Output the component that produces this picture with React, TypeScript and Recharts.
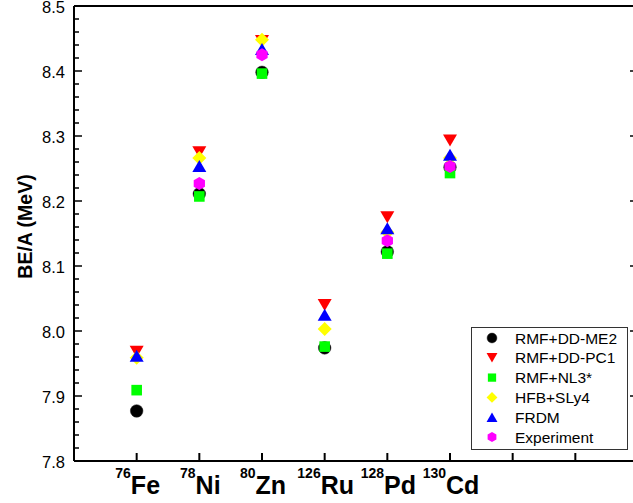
import React from 'react';
import {
    ScatterChart,
    Scatter,
    XAxis,
    YAxis,
    ReferenceLine
} from 'recharts';

// nuclei along the x axis (positions 1..6)
const elements = ['Fe', 'Ni', 'Zn', 'Ru', 'Pd', 'Cd'];
const massNumbers = ['76', '78', '80', '126', '128', '130'];

// BE/A in MeV, null = no point
const rmfDdMe2 = [7.877, 8.211, 8.398, 7.974, 8.122, 8.252];
const rmfDdPc1 = [7.968, 8.275, 8.446, 8.040, 8.175, 8.293];
const rmfNl3 = [7.909, 8.207, 8.396, 7.976, 8.119, 8.243];
const hfbSly4 = [7.959, 8.266, 8.448, 8.003, 8.152, 8.266];
const frdm = [7.962, 8.254, 8.434, 8.025, 8.158, 8.271];
const experiment = [null, 8.227, 8.425, null, 8.139, 8.253];

const xTicks = [1, 2, 3, 4, 5, 6, 7, 8];
const yMajorTicks = [7.8, 7.9, 8.0, 8.1, 8.2, 8.3, 8.4, 8.5];

const FONT = "'Liberation Sans', Arial, Helvetica, sans-serif";

type Kind = 'circle' | 'down' | 'square' | 'diamond' | 'up' | 'hexagon';

const seriesList: { name: string; values: (number | null)[]; kind: Kind; color: string }[] = [
    { name: 'RMF+DD-ME2', values: rmfDdMe2, kind: 'circle', color: '#000000' },
    { name: 'RMF+DD-PC1', values: rmfDdPc1, kind: 'down', color: '#FF0000' },
    { name: 'RMF+NL3*', values: rmfNl3, kind: 'square', color: '#00FF00' },
    { name: 'HFB+SLy4', values: hfbSly4, kind: 'diamond', color: '#FFFF00' },
    { name: 'FRDM', values: frdm, kind: 'up', color: '#0000FF' },
    { name: 'Experiment', values: experiment, kind: 'hexagon', color: '#FF00FF' }
];

// minor ticks every 0.02 between the majors
const yAllTicks: number[] = [];
yMajorTicks.forEach((v, i) => {
    yAllTicks.push(v);
    if (i < yMajorTicks.length - 1) {
        for (let k = 1; k < 5; k++) yAllTicks.push(Number((v + k * 0.02).toFixed(2)));
    }
});
const isMajor = (v: number) => Math.abs(v * 10 - Math.round(v * 10)) < 1e-6;

const Marker = ({ kind, color, cx, cy, s = 1 }: { kind: Kind; color: string; cx: number; cy: number; s?: number }) => {
    switch (kind) {
        case 'circle':
            return <circle cx={cx} cy={cy} r={6.3 * s} fill={color} stroke="#222" strokeWidth={0.5} />;
        case 'down':
            return <polygon points={`${cx - 7 * s},${cy - 6 * s} ${cx + 7 * s},${cy - 6 * s} ${cx},${cy + 6 * s}`} fill={color} />;
        case 'up':
            return <polygon points={`${cx - 7 * s},${cy + 6 * s} ${cx + 7 * s},${cy + 6 * s} ${cx},${cy - 6 * s}`} fill={color} />;
        case 'square':
            return <rect x={cx - 5.3 * s} y={cy - 5.3 * s} width={10.6 * s} height={10.6 * s} fill={color} />;
        case 'diamond':
            return <polygon points={`${cx},${cy - 7 * s} ${cx + 7 * s},${cy} ${cx},${cy + 7 * s} ${cx - 7 * s},${cy}`} fill={color} />;
        case 'hexagon': {
            const r = 6.5 * s;
            const pts = [-90, -30, 30, 90, 150, 210]
                .map(a => `${cx + r * Math.cos((a * Math.PI) / 180)},${cy + r * Math.sin((a * Math.PI) / 180)}`)
                .join(' ');
            return <polygon points={pts} fill={color} />;
        }
    }
    return null;
};

const XTick = (props: any) => {
    const { x, y, payload } = props;
    const i = payload.value - 1;
    return (
        <g>
            <line x1={x} y1={y} x2={x} y2={y - 8} stroke="#000" strokeWidth={2} />
            {i >= 0 && i < elements.length && (
                <text x={x + 1} y={y + 33} textAnchor="middle" fontFamily={FONT} fontWeight="bold" fill="#000">
                    <tspan fontSize={14} dy={-16}>{massNumbers[i]}</tspan>
                    <tspan fontSize={25} dy={16}>{elements[i]}</tspan>
                </text>
            )}
        </g>
    );
};

const YTick = (props: any) => {
    const { x, y, payload } = props;
    const major = isMajor(payload.value);
    return (
        <g>
            <line x1={x} y1={y} x2={x + (major ? 8 : 5)} y2={y} stroke="#000" strokeWidth={1.5} />
            {major && (
                <text x={x - 9} y={y + 1} dy="0.36em" textAnchor="end" fontFamily={FONT} fontSize={16.5} fill="#000">
                    {payload.value.toFixed(1)}
                </text>
            )}
        </g>
    );
};

const RightTick = (props: any) => {
    const { x, y, payload } = props;
    const major = isMajor(payload.value);
    return <line x1={x} y1={y} x2={x - (major ? 8 : 5)} y2={y} stroke="#000" strokeWidth={1.5} />;
};

const YTitle = (props: any) => {
    const { viewBox } = props;
    const cx = viewBox.x + 25;
    const cy = viewBox.y + viewBox.height / 2 - 7;
    return (
        <text x={cx} y={cy} transform={`rotate(-90, ${cx}, ${cy})`} textAnchor="middle" dy="0.36em"
            fontFamily={FONT} fontSize={19.5} fontWeight="bold" fill="#000">
            BE/A (MeV)
        </text>
    );
};

export default function App() {
    return (
        <div style={{ position: 'absolute', left: 0, top: 0, width: 633, height: 503, overflow: 'hidden', background: '#fff' }}>
            <ScatterChart width={640} height={503} margin={{ top: 6, right: 1, left: 0, bottom: 0 }}>
                <XAxis
                    type="number"
                    dataKey="x"
                    domain={[0, 9]}
                    ticks={xTicks}
                    interval={0}
                    height={42}
                    tickSize={0}
                    tickMargin={0}
                    tickLine={false}
                    axisLine={{ stroke: '#000', strokeWidth: 2 }}
                    tick={<XTick />}
                    allowDataOverflow
                />
                <YAxis
                    type="number"
                    dataKey="y"
                    domain={[7.8, 8.5]}
                    ticks={yAllTicks}
                    interval={0}
                    width={74}
                    tickSize={0}
                    tickMargin={0}
                    tickLine={false}
                    axisLine={{ stroke: '#000', strokeWidth: 2 }}
                    tick={<YTick />}
                    label={{ content: <YTitle /> }}
                    allowDataOverflow
                />
                <YAxis
                    yAxisId="right"
                    orientation="right"
                    type="number"
                    domain={[7.8, 8.5]}
                    ticks={yAllTicks}
                    interval={0}
                    width={1}
                    tickSize={0}
                    tickMargin={0}
                    tickLine={false}
                    axisLine={{ stroke: '#000', strokeWidth: 2 }}
                    tick={<RightTick />}
                    allowDataOverflow
                />
                <ReferenceLine y={8.5} stroke="#000" strokeWidth={2} />
                {seriesList.map(s => (
                    <Scatter
                        key={s.name}
                        name={s.name}
                        data={s.values
                            .map((v, i) => ({ x: i + 1, y: v }))
                            .filter(d => d.y !== null)}
                        isAnimationActive={false}
                        shape={(p: any) => <Marker kind={s.kind} color={s.color} cx={p.cx} cy={p.cy} />}
                    />
                ))}
            </ScatterChart>

            {/* legend box */}
            <svg style={{ position: 'absolute', left: 471, top: 327 }} width={157} height={123}>
                <rect x={0.5} y={0.5} width={156} height={122} fill="#fff" stroke="#333" strokeWidth={1} />
                {seriesList.map((s, i) => (
                    <g key={s.name}>
                        <Marker kind={s.kind} color={s.color} cx={21} cy={11 + i * 19.8} s={0.78} />
                        <text x={44} y={11 + i * 19.8} dy="0.36em" fontFamily={FONT} fontSize={15.5} fill="#000">
                            {s.name}
                        </text>
                    </g>
                ))}
            </svg>
        </div>
    );
}
